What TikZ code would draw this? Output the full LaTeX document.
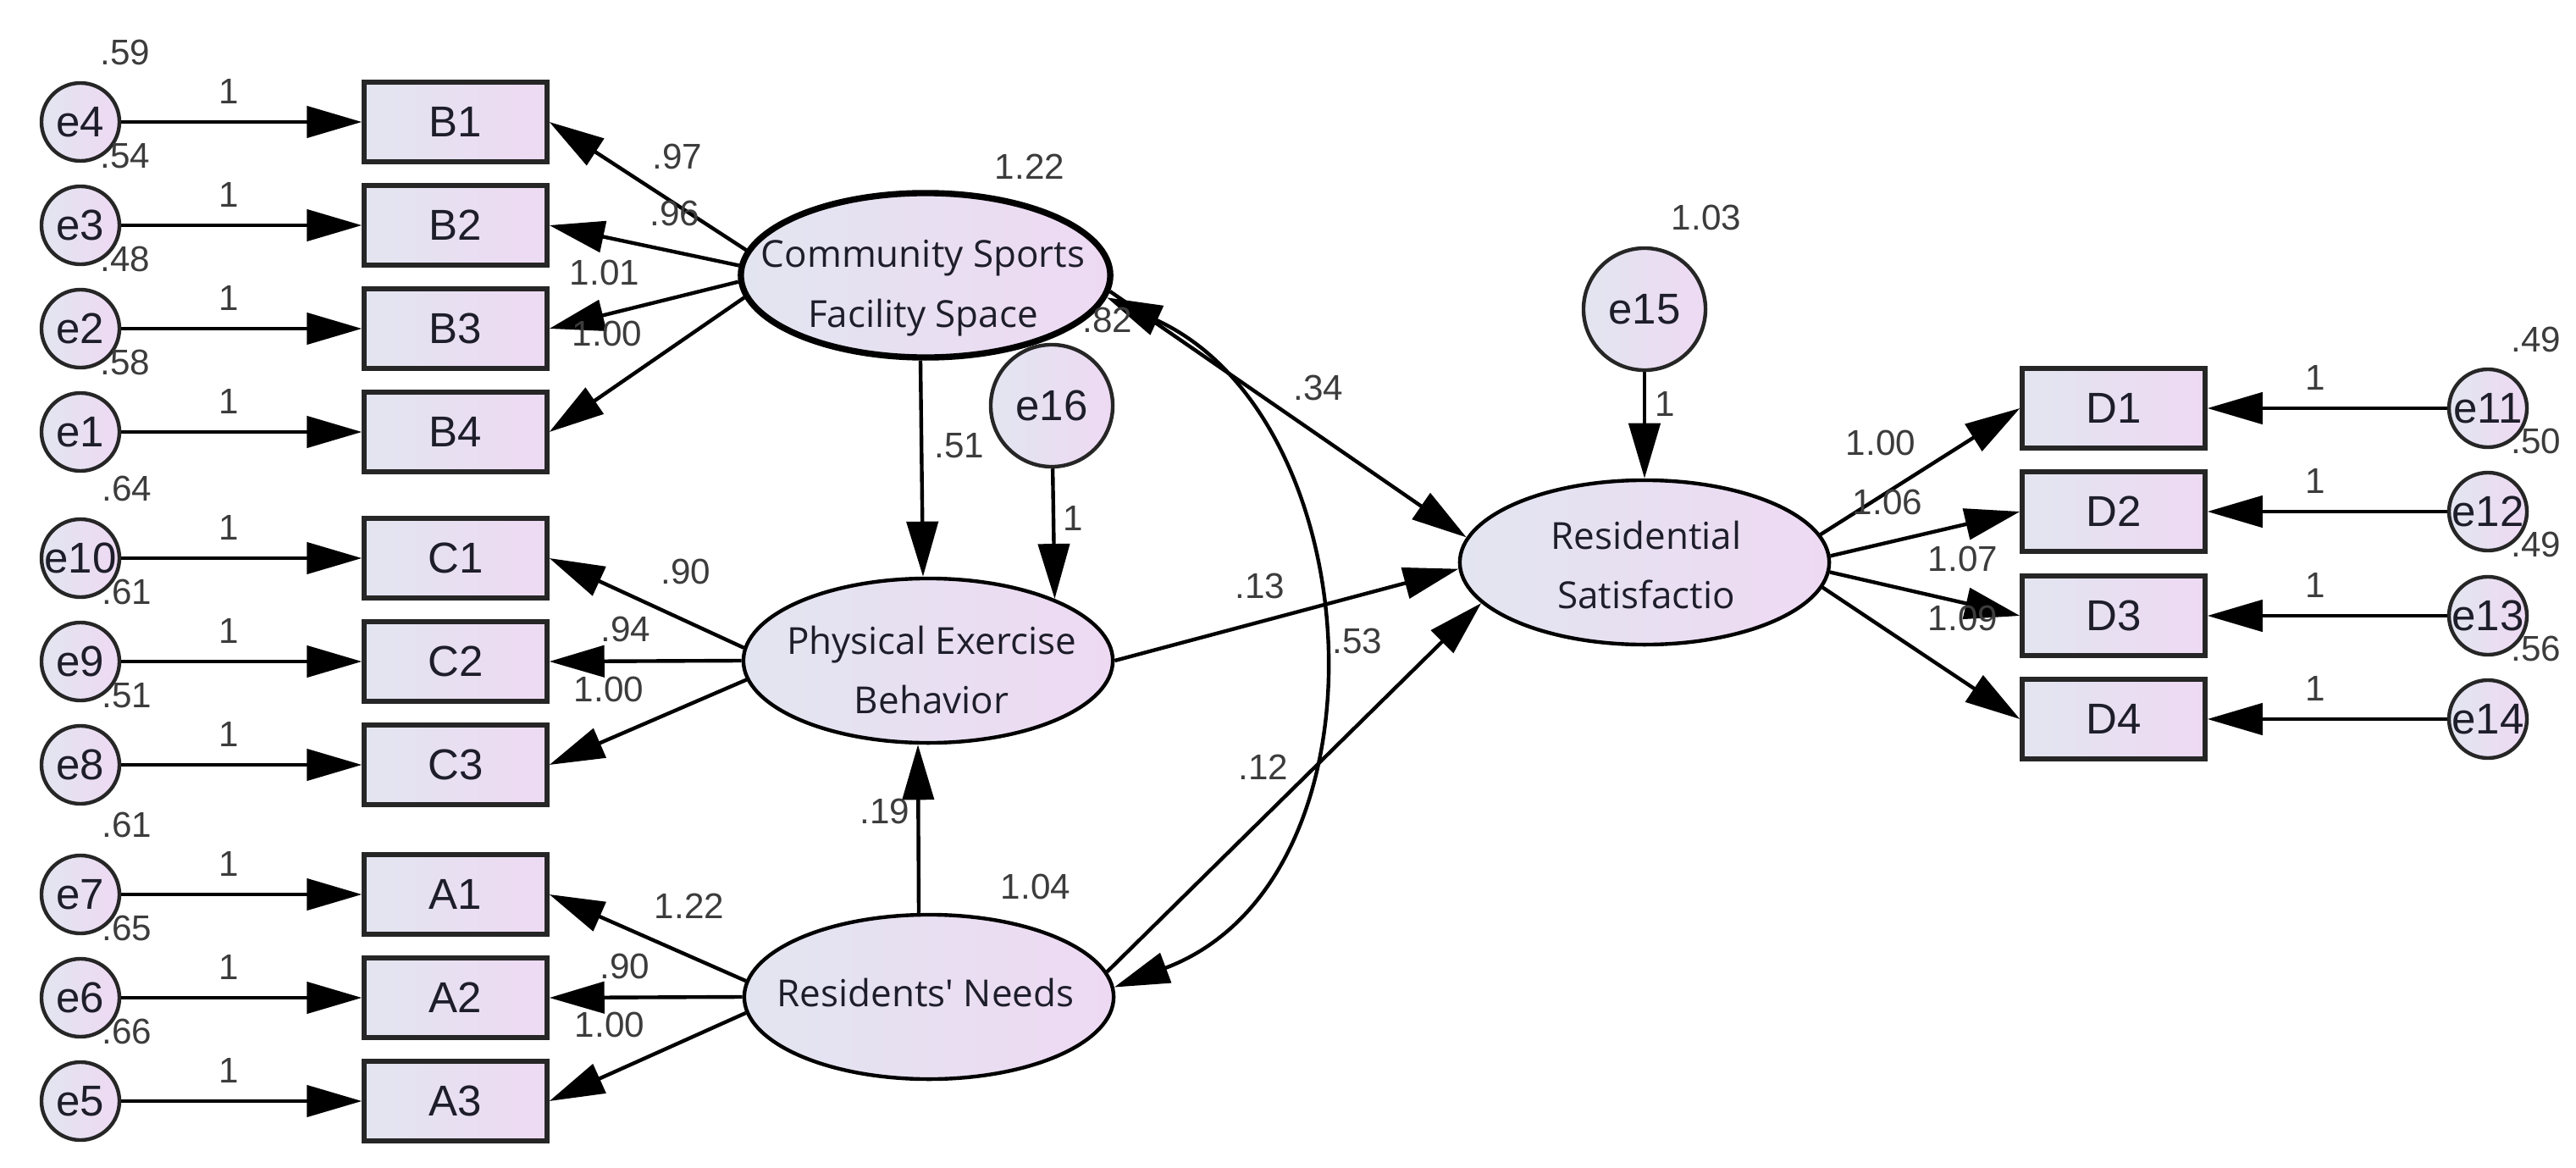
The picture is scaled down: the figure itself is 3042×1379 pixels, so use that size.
\documentclass[tikz,border=0pt]{standalone}
\usepackage{fontspec}
\setmainfont{Liberation Sans}
\newfontfamily\latfont{Open Sans}
\usetikzlibrary{arrows.meta,shapes.geometric}
\definecolor{fillL}{RGB}{226,229,240}
\definecolor{fillR}{RGB}{238,217,243}
\definecolor{numc}{RGB}{60,60,60}
\definecolor{txtc}{RGB}{30,30,42}
\begin{document}
\begin{tikzpicture}[x=0.01cm,y=-0.01cm,
  latent/.style={ellipse,draw=black,line width=1.25pt,minimum width=4.36cm,minimum height=1.94cm,inner sep=0pt,left color=fillL,right color=fillR},
  obs/.style={rectangle,draw=black!85,line width=1.5pt,minimum width=2.16cm,minimum height=0.94cm,inner sep=0pt,left color=fillL,right color=fillR,font=\fontsize{14.5}{16}\selectfont,text=txtc},
  err/.style={circle,draw=black!85,line width=1.25pt,minimum size=0.92cm,inner sep=0pt,left color=fillL,right color=fillR},
  bigerr/.style={err,minimum size=1.44cm},
  errlbl/.style={font=\fontsize{14.5}{16}\selectfont,text=txtc,inner sep=0pt},
  num/.style={font=\fontsize{12}{14}\selectfont,text=numc,inner sep=0pt},
  ltext/.style={font=\latfont\fontsize{12.5}{20}\selectfont,align=center,text=txtc,inner sep=0pt},
  arr/.style={line width=1.25pt,-{Triangle[length=6.5mm,width=3.7mm]}},
  dblarr/.style={line width=1.25pt,{Triangle[length=6.5mm,width=3.7mm]}-{Triangle[length=6.5mm,width=3.7mm]}},
]
\useasboundingbox (0,0) rectangle (3042,1379);
\fill[white] (0,0) rectangle (3042,1379);

% ---------- latent variables ----------
\node[latent,line width=2.1pt] (CSFS) at (1093,325) {};
\node[ltext] (CSFSt) at (1090,340) {Community Sports\\Facility Space};
\node[latent] (PEB) at (1096,780) {};
\node[ltext] (PEBt) at (1100,791) {Physical Exercise\\Behavior};
\node[latent] (RN) at (1097,1177) {};
\node[ltext] (RNt) at (1093,1172) {Residents' Needs};
\node[latent] (RS) at (1942,664) {};
\node[ltext] (RSt) at (1944,667) {Residential\\Satisfactio};

\node[bigerr,label={[errlbl]center:e16}] (e16) at (1242,479) {};
\node[bigerr,label={[errlbl]center:e15}] (e15) at (1942,365) {};

% ---------- observed: left ----------
\foreach \nm/\en/\y in {B1/e4/144,B2/e3/266,B3/e2/388,B4/e1/510,
                        C1/e10/659,C2/e9/781,C3/e8/903,
                        A1/e7/1056,A2/e6/1178,A3/e5/1300}{
  \node[obs] (\nm) at (538,\y) {\nm};
  \node[err,label={[errlbl]center:\en}] (\en) at (95,\y) {};
  \draw[arr] (\en) -- (\nm);
  \node[num] (one\nm) at (270,\y-36) {1};
}
% ---------- observed: right ----------
\foreach \nm/\en/\y in {D1/e11/482,D2/e12/604,D3/e13/727,D4/e14/849}{
  \node[obs] (\nm) at (2496,\y) {\nm};
  \node[err,label={[errlbl]center:\en}] (\en) at (2938,\y) {};
  \draw[arr] (\en) -- (\nm);
  \node[num] (one\nm) at (2734,\y-36) {1};
}

% ---------- loadings ----------
\draw[arr] (CSFS.172.4) -- (B1.east);
\draw[arr] (CSFS.177.9) -- (B2.east);
\draw[arr] (CSFS.182.4) -- (B3.east);
\draw[arr] (CSFS.187.9) -- (B4.east);
\draw[arr] (PEB.176) -- (C1.east);
\draw[arr] (PEB.180.8) -- (C2.east);
\draw[arr] (PEB.186.8) -- (C3.east);
\draw[arr] (RN.175.8) -- (A1.east);
\draw[arr] (RN.180.5) -- (A2.east);
\draw[arr] (RN.185.1) -- (A3.east);
\draw[arr] (RS.9.5) -- (D1.west);
\draw[arr] (RS.2.9) -- (D2.west);
\draw[arr] (RS.-3.2) -- (D3.west);
\draw[arr] (RS.-8.85) -- (D4.west);

% ---------- structural paths ----------
\draw[arr] ([xshift=-0.06cm]CSFS.south) -- ([xshift=-0.06cm]PEB.north);
\draw[arr] ([xshift=-0.12cm]RN.north) -- ([xshift=-0.12cm]PEB.south);
\draw[arr] (e16) -- (PEB.26);
\draw[arr] (e15) -- (RS.north);
\draw[arr] (CSFS.-5) -- (RS.172);
\draw[arr] (PEB.east) -- (RS.182);
\draw[arr] (RN.8) -- (RS.194);
\draw[dblarr] (CSFS.-7) .. controls (1620,494) and (1650,1040) .. (RN.3);

% ---------- variances ----------
\node[num] (vB1) at (148,62) {.59};
\node[num] (vB2) at (148,184) {.54};
\node[num] (vB3) at (148,306) {.48};
\node[num] (vB4) at (148,428) {.58};
\node[num] (vC1) at (150,577) {.64};
\node[num] (vC2) at (150,699) {.61};
\node[num] (vC3) at (150,821) {.51};
\node[num] (vA1) at (150,974) {.61};
\node[num] (vA2) at (150,1096) {.65};
\node[num] (vA3) at (150,1218) {.66};
\node[num] (vD1) at (2995,401) {.49};
\node[num] (vD2) at (2995,521) {.50};
\node[num] (vD3) at (2995,643) {.49};
\node[num] (vD4) at (2995,766) {.56};
\node[num] (vCSFS) at (1216,197) {1.22};
\node[num] (vRN) at (1223,1047) {1.04};
\node[num] (ve16) at (1308,378) {.82};
\node[num] (ve15) at (2015,257) {1.03};

% ---------- loading labels ----------
\node[num] (lB1) at (800,185) {.97};
\node[num] (lB2) at (797,252) {.96};
\node[num] (lB3) at (714,322) {1.01};
\node[num] (lB4) at (717,394) {1.00};
\node[num] (lC1) at (810,675) {.90};
\node[num] (lC2) at (739,743) {.94};
\node[num] (lC3) at (719,814) {1.00};
\node[num] (lA1) at (814,1070) {1.22};
\node[num] (lA2) at (738,1141) {.90};
\node[num] (lA3) at (720,1210) {1.00};
\node[num] (lD1) at (2221,523) {1.00};
\node[num] (lD2) at (2229,593) {1.06};
\node[num] (lD3) at (2318,660) {1.07};
\node[num] (lD4) at (2318,730) {1.09};

% ---------- structural labels ----------
\node[num] (p51) at (1133,526) {.51};
\node[num] (p19) at (1045,958) {.19};
\node[num] (pe16) at (1267,612) {1};
\node[num] (pe15) at (1966,477) {1};
\node[num] (p34) at (1557,458) {.34};
\node[num] (p13) at (1488,692) {.13};
\node[num] (p53) at (1603,757) {.53};
\node[num] (p12) at (1492,906) {.12};
\end{tikzpicture}
\end{document}
